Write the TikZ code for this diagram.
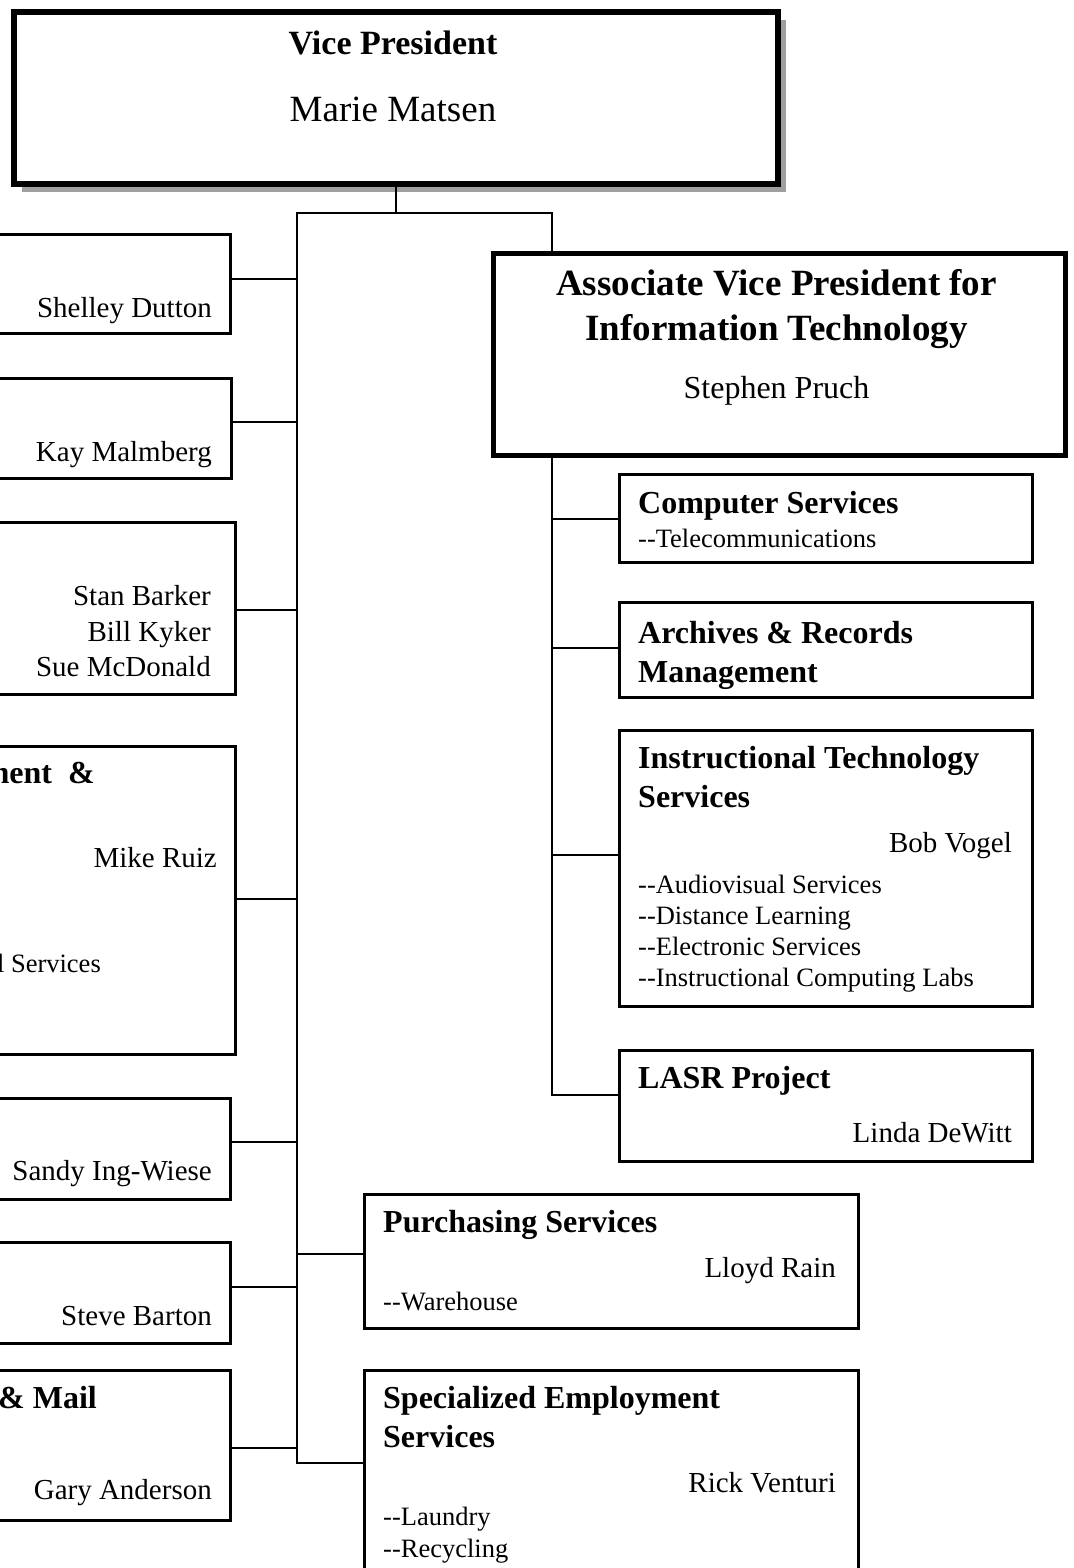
\documentclass[tikz,border=0pt]{standalone}
\usepackage{fontspec}
\setmainfont{Liberation Serif}
\usetikzlibrary{shadows}
\begin{document}
\begin{tikzpicture}[x=1pt, y=-1pt, line join=miter,
  box/.style={draw, line width=3pt, fill=white, anchor=north west, inner sep=0pt},
  wire/.style={line width=2.5pt, line cap=rect},
  nm/.style={inner sep=0pt, font=\fontsize{29}{35}\selectfont},
  hd/.style={inner sep=0pt, font=\bfseries\fontsize{32}{38}\selectfont},
  sb/.style={inner sep=0pt, font=\fontsize{26.5}{32}\selectfont}]
\useasboundingbox (0,0) rectangle (1073,1568);
\clip (0,0) rectangle (1073,1568);
% top boxes
\node[box, line width=6pt, minimum width=764pt, minimum height=172pt,
  drop shadow={shadow xshift=8pt, shadow yshift=-8pt, fill=gray!75, opacity=1}] (vp) at (11,9) {};
\node[box, line width=5pt, minimum width=572pt, minimum height=202pt] (avp) at (490.5,250.5) {};
% right boxes
\node[box, minimum width=413pt, minimum height=88pt] (cs) at (617.5,472.5) {};
\node[box, minimum width=413pt, minimum height=95pt] (ar) at (617.5,600.5) {};
\node[box, minimum width=413pt, minimum height=276pt] (its) at (617.5,728.5) {};
\node[box, minimum width=413pt, minimum height=111pt] (lasr) at (617.5,1048.5) {};
\node[box, minimum width=494pt, minimum height=134pt] (pur) at (362.5,1192.5) {};
\node[box, minimum width=494pt, minimum height=300pt] (ses) at (362.5,1368.5) {};
% left boxes (cut by the page edge)
\foreach \b/\r/\t/\h in {sd/231.5/232.5/99, km/232.5/376.5/100, sb/236.5/520.5/172, mr/236.5/744.5/308,
  si/231.5/1096.5/101, st/231.5/1240.5/101, ga/231.5/1368.5/150}
  \node[box, anchor=north east, minimum width=400pt, minimum height=\h pt] (\b) at (\r,\t) {};
% lines
\path (297,213) coordinate (ls) (552,213) coordinate (rs);
\draw[wire] (vp.south) -- (vp.south |- ls) (ls) -- (rs) -- (rs |- avp.north);
\draw[wire] (ls) -- (ls |- ses.west |- 0,1463);
\draw[wire] (rs |- avp.south) -- (rs |- 0,1095);
\foreach \b/\y in {sd/279, km/422, sb/610, mr/899, si/1142, st/1287, ga/1448}
  \draw[wire] (\b.east |- 0,\y) -- (ls |- 0,\y);
\foreach \b/\y in {pur/1254, ses/1463} \draw[wire] (ls |- 0,\y) -- (\b.west |- 0,\y);
\foreach \b/\y in {cs/519, ar/648, its/855, lasr/1095} \draw[wire] (rs |- 0,\y) -- (\b.west |- 0,\y);
% texts
\node[inner sep=0pt, anchor=base, font=\bfseries\fontsize{34}{40}\selectfont] (vpt) at (393,55) {Vice President};
\node[inner sep=0pt, anchor=base, font=\fontsize{37}{44}\selectfont] (vpn) at (393,122) {Marie Matsen};
\node[inner sep=0pt, anchor=base, font=\bfseries\fontsize{37}{44}\selectfont] (avt1) at (776.5,295) {Associate Vice President for};
\node[inner sep=0pt, anchor=base, font=\bfseries\fontsize{37}{44}\selectfont] (avt2) at (776.5,340) {Information Technology};
\node[inner sep=0pt, anchor=base, font=\fontsize{32}{38}\selectfont] (avn) at (776.5,398) {Stephen Pruch};
\node[hd, anchor=base west] (cst) at (638,513) {Computer Services};
\node[sb, anchor=base west] (csl) at (638,547) {-{}-Telecommunications};
\node[hd, anchor=base west] (art1) at (638,643) {Archives \& Records};
\node[hd, anchor=base west] (art2) at (638,682) {Management};
\node[hd, anchor=base west] (itt1) at (638,768) {Instructional Technology};
\node[hd, anchor=base west] (itt2) at (638,807) {Services};
\node[nm, anchor=base east] (itn) at (1012,852) {Bob Vogel};
\foreach \t/\y in {Audiovisual Services/893, Distance Learning/924, Electronic Services/955, Instructional Computing Labs/986}
  \node[sb, anchor=base west] (it\y) at (638,\y) {-{}-\t};
\node[hd, anchor=base west] (lat) at (638,1088) {LASR Project};
\node[nm, anchor=base east] (lan) at (1012,1142) {Linda DeWitt};
\node[hd, anchor=base west] (put) at (383,1232) {Purchasing Services};
\node[nm, anchor=base east] (pun) at (836,1277) {Lloyd Rain};
\node[sb, anchor=base west] (pul) at (383,1310) {-{}-Warehouse};
\node[hd, anchor=base west] (set1) at (383,1408) {Specialized Employment};
\node[hd, anchor=base west] (set2) at (383,1447) {Services};
\node[nm, anchor=base east] (sen) at (836,1492) {Rick Venturi};
\node[sb, anchor=base west] (sel1) at (383,1525) {-{}-Laundry};
\node[sb, anchor=base west] (sel2) at (383,1557) {-{}-Recycling};
\node[nm, anchor=base east] (sdn) at (212,317) {Shelley Dutton};
\node[nm, anchor=base east] (kmn) at (212,461) {Kay Malmberg};
\foreach \t/\y in {Stan Barker/605, Bill Kyker/641, Sue McDonald/676}
  \node[nm, anchor=base east] (sb\y) at (211,\y) {\t};
\node[hd, anchor=base east] (mrt) at (95,783) {ment\ \ \&};
\node[nm, anchor=base east] (mrn) at (217,867) {Mike Ruiz};
\node[sb, anchor=base east] (mrl) at (101,972) {l Services};
\node[nm, anchor=base east] (sin) at (212,1180) {Sandy Ing-Wiese};
\node[nm, anchor=base east] (stn) at (212,1325) {Steve Barton};
\node[hd, anchor=base east] (gat) at (97,1408) {\& Mail};
\node[nm, anchor=base east] (gan) at (212,1499) {Gary Anderson};
\end{tikzpicture}
\end{document}
